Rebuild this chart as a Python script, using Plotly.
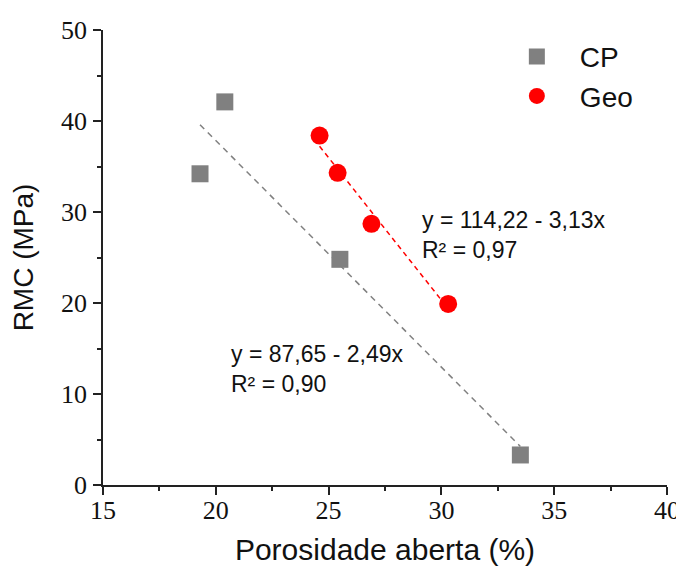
import plotly.graph_objects as go

# Data
cp_x = [19.3, 20.4, 25.5, 33.5]
cp_y = [34.2, 42.1, 24.8, 3.3]
geo_x = [24.6, 25.4, 26.9, 30.3]
geo_y = [38.4, 34.3, 28.7, 19.9]

# Linear fits (coefficients as printed on the chart)
cp_a, cp_b = 87.65, -2.49
geo_a, geo_b = 114.22, -3.13

cp_fit_x = [min(cp_x), max(cp_x)]
cp_fit_y = [cp_a + cp_b * v for v in cp_fit_x]
geo_fit_x = [min(geo_x), max(geo_x)]
geo_fit_y = [geo_a + geo_b * v for v in geo_fit_x]

x_ticks = [15, 20, 25, 30, 35, 40]
y_ticks = [0, 10, 20, 30, 40, 50]

cp_label = "y = 87,65 - 2,49x<br>R² = 0,90"
geo_label = "y = 114,22 - 3,13x<br>R² = 0,97"

SANS = "Liberation Sans"
SERIF = "Liberation Serif"
GREY = "#808080"
RED = "#ff0000"
INK = "#111111"

fig = go.Figure()
fig.add_trace(go.Scatter(x=cp_fit_x, y=cp_fit_y, mode="lines",
                         line=dict(color=GREY, width=1.5, dash="6px,5px"),
                         showlegend=False, hoverinfo="skip"))
fig.add_trace(go.Scatter(x=geo_fit_x, y=geo_fit_y, mode="lines",
                         line=dict(color=RED, width=1.5, dash="5px,4px"),
                         showlegend=False, hoverinfo="skip"))
fig.add_trace(go.Scatter(x=cp_x, y=cp_y, mode="markers", name="CP",
                         marker=dict(symbol="square", size=17, color=GREY,
                                     line=dict(width=0))))
fig.add_trace(go.Scatter(x=geo_x, y=geo_y, mode="markers", name="Geo",
                         marker=dict(symbol="circle", size=18, color=RED,
                                     line=dict(width=0))))

fig.add_annotation(x=20.6, y=12.8, xref="x", yref="y", text=cp_label,
                   showarrow=False, xanchor="left", yanchor="middle", align="left",
                   font=dict(family=SANS, size=23, color=INK))
fig.add_annotation(x=29.03, y=27.45, xref="x", yref="y", text=geo_label,
                   showarrow=False, xanchor="left", yanchor="middle", align="left",
                   font=dict(family=SANS, size=23, color=INK))

tick_font = dict(family=SERIF, size=26, color=INK)

fig.update_layout(
    width=676, height=558,
    margin=dict(l=95, r=17, t=22, b=81, autoexpand=False),
    plot_bgcolor="white", paper_bgcolor="white",
    font=dict(family=SERIF, size=24, color=INK),
    xaxis=dict(
        range=[15, 40], tickmode="array", tickvals=x_ticks,
        ticktext=[str(v) for v in x_ticks], automargin=False,
        showgrid=False, zeroline=False, showline=True, linecolor="#222",
        linewidth=1.5, ticks="outside", ticklen=8, tickwidth=1.5, tickcolor="#222",
        tickfont=tick_font, ticklabelstandoff=-7,
        minor=dict(dtick=2.5, ticks="outside", ticklen=4, tickwidth=1.5, tickcolor="#222"),
        title=dict(text="Porosidade aberta (%)", font=dict(family=SANS, size=30, color=INK),
                   standoff=15),
    ),
    yaxis=dict(
        range=[0, 50], tickmode="array", tickvals=y_ticks,
        ticktext=[str(v) for v in y_ticks], automargin=False,
        showgrid=False, zeroline=False, showline=True, linecolor="#222",
        linewidth=1.5, ticks="outside", ticklen=8, tickwidth=1.5, tickcolor="#222",
        tickfont=tick_font, ticklabelstandoff=1,
        minor=dict(dtick=5, ticks="outside", ticklen=4, tickwidth=1.5, tickcolor="#222"),
        title=dict(text="RMC (MPa)", font=dict(family=SANS, size=28, color=INK),
                   standoff=25),
    ),
    legend=dict(x=0.693, y=0.996, xanchor="left", yanchor="top",
                font=dict(family=SANS, size=28, color=INK),
                itemwidth=76, bgcolor="rgba(0,0,0,0)", tracegroupgap=0),
)

fig.write_html("out.html")
